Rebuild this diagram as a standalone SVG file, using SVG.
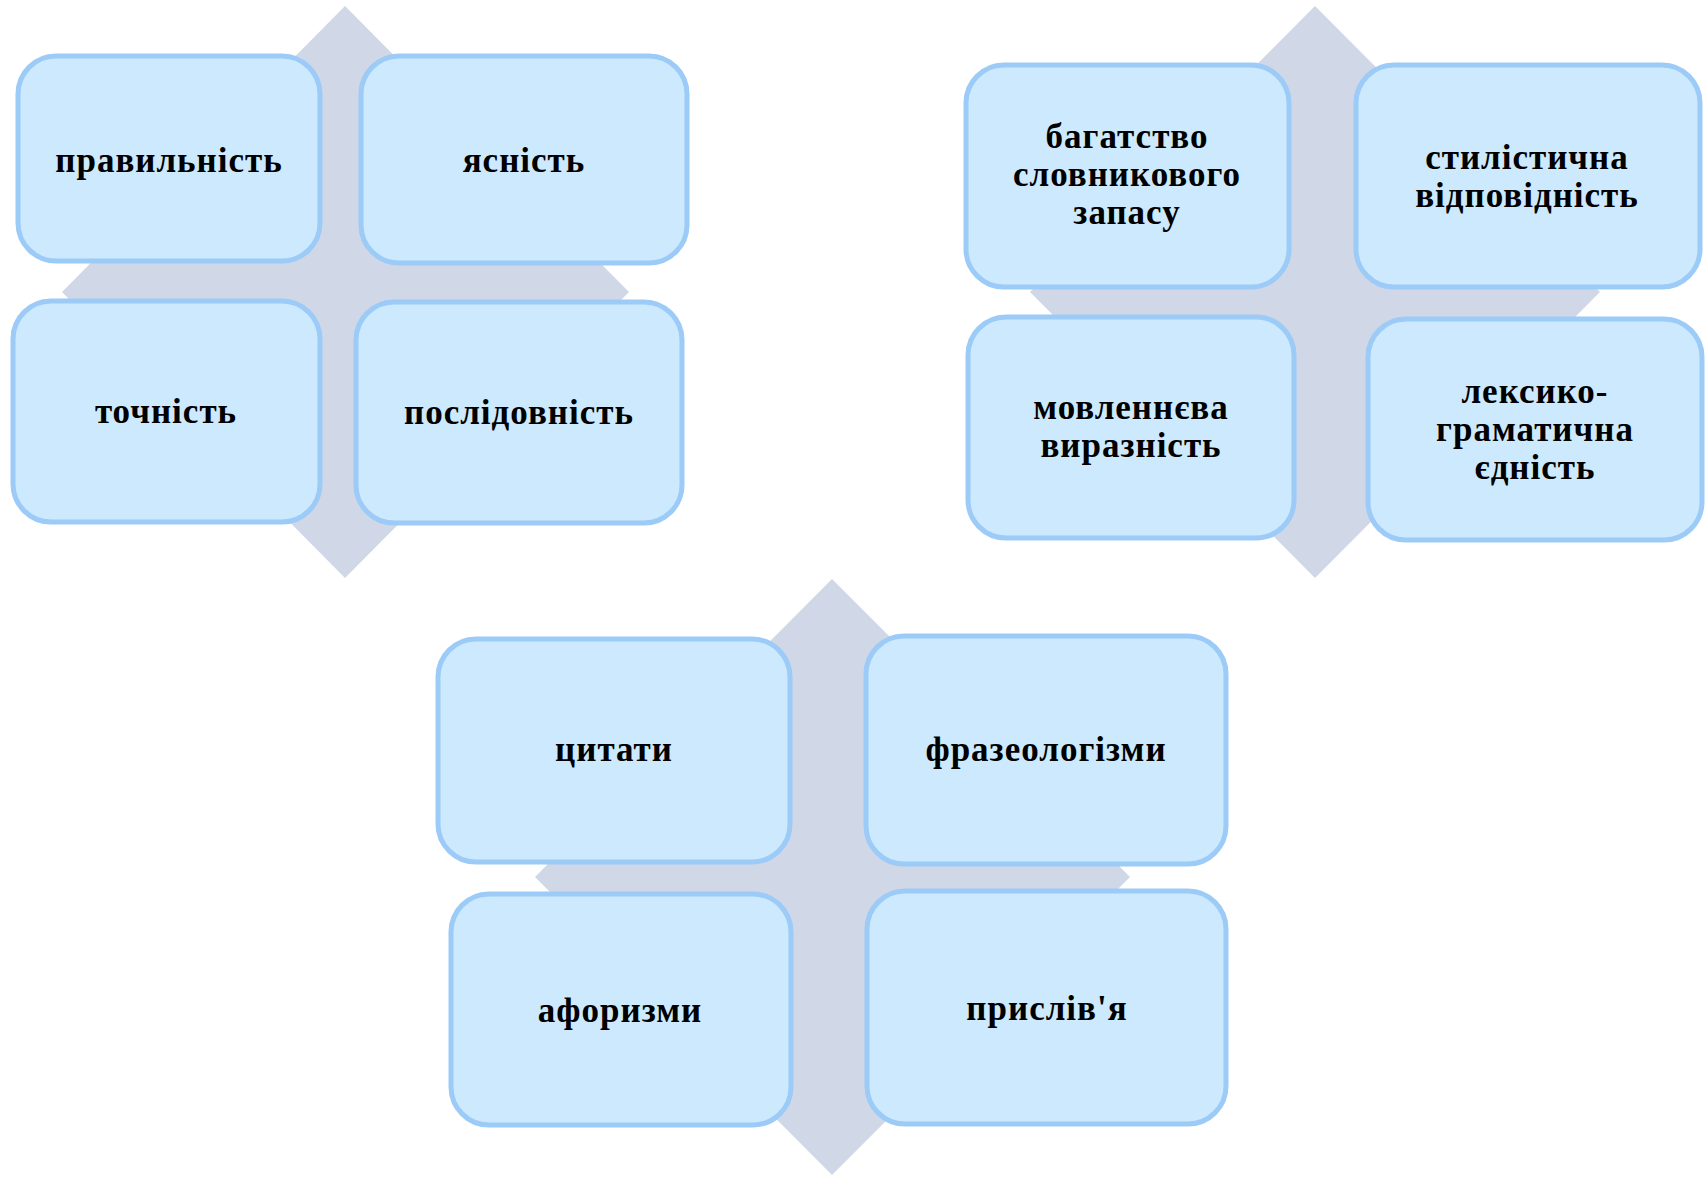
<svg xmlns="http://www.w3.org/2000/svg" width="1706" height="1177" viewBox="0 0 1706 1177">
<style>
.dia{fill:#d0d7e6}
.box{fill:#cce9fd;stroke:#9ccbf8;stroke-width:5}
.t{font-family:"Liberation Serif","Times New Roman",serif;font-weight:bold;font-size:35px;letter-spacing:1px;fill:#000;text-anchor:middle}
</style>
<rect width="1706" height="1177" fill="#fff"/>
<g id="connectors"></g>
<g id="group1">
<polygon class="dia" points="345,6 629,292 345,578 62,292"/>
<g id="n-pravylnist"><rect class="box" x="18" y="56" width="302" height="205" rx="38"/><text class="t" x="169" y="172">правильність</text></g>
<g id="n-yasnist"><rect class="box" x="361" y="56" width="326" height="207" rx="38"/><text class="t" x="524" y="172">ясність</text></g>
<g id="n-tochnist"><rect class="box" x="13" y="301" width="307" height="221" rx="38"/><text class="t" x="166" y="423">точність</text></g>
<g id="n-poslidovnist"><rect class="box" x="356" y="302" width="326" height="221" rx="38"/><text class="t" x="519" y="424">послідовність</text></g>
</g>
<g id="group2">
<polygon class="dia" points="1315,6 1600,292 1315,578 1030,292"/>
<g id="n-bahatstvo"><rect class="box" x="966" y="65" width="323" height="222" rx="38"/><text class="t" x="1127" y="148">багатство</text><text class="t" x="1127" y="186">словникового</text><text class="t" x="1127" y="224">запасу</text></g>
<g id="n-styl"><rect class="box" x="1356" y="65" width="344" height="222" rx="38"/><text class="t" x="1527" y="169">стилістична</text><text class="t" x="1527" y="207">відповідність</text></g>
<g id="n-movl"><rect class="box" x="968" y="317" width="326" height="221" rx="38"/><text class="t" x="1131" y="419">мовленнєва</text><text class="t" x="1131" y="457">виразність</text></g>
<g id="n-leksyko"><rect class="box" x="1368" y="319" width="334" height="221" rx="38"/><text class="t" x="1535" y="403">лексико-</text><text class="t" x="1535" y="441">граматична</text><text class="t" x="1535" y="479">єдність</text></g>
</g>
<g id="group3">
<polygon class="dia" points="832,579 1130,877 832,1175 535,877"/>
<g id="n-tsytaty"><rect class="box" x="438" y="639" width="352" height="223" rx="38"/><text class="t" x="614" y="761">цитати</text></g>
<g id="n-fraz"><rect class="box" x="866" y="636" width="360" height="228" rx="38"/><text class="t" x="1046" y="761">фразеологізми</text></g>
<g id="n-afor"><rect class="box" x="451" y="894" width="340" height="231" rx="38"/><text class="t" x="620" y="1022">афоризми</text></g>
<g id="n-pryslivya"><rect class="box" x="867" y="891" width="359" height="233" rx="38"/><text class="t" x="1047" y="1020">прислів'я</text></g>
</g>
</svg>
